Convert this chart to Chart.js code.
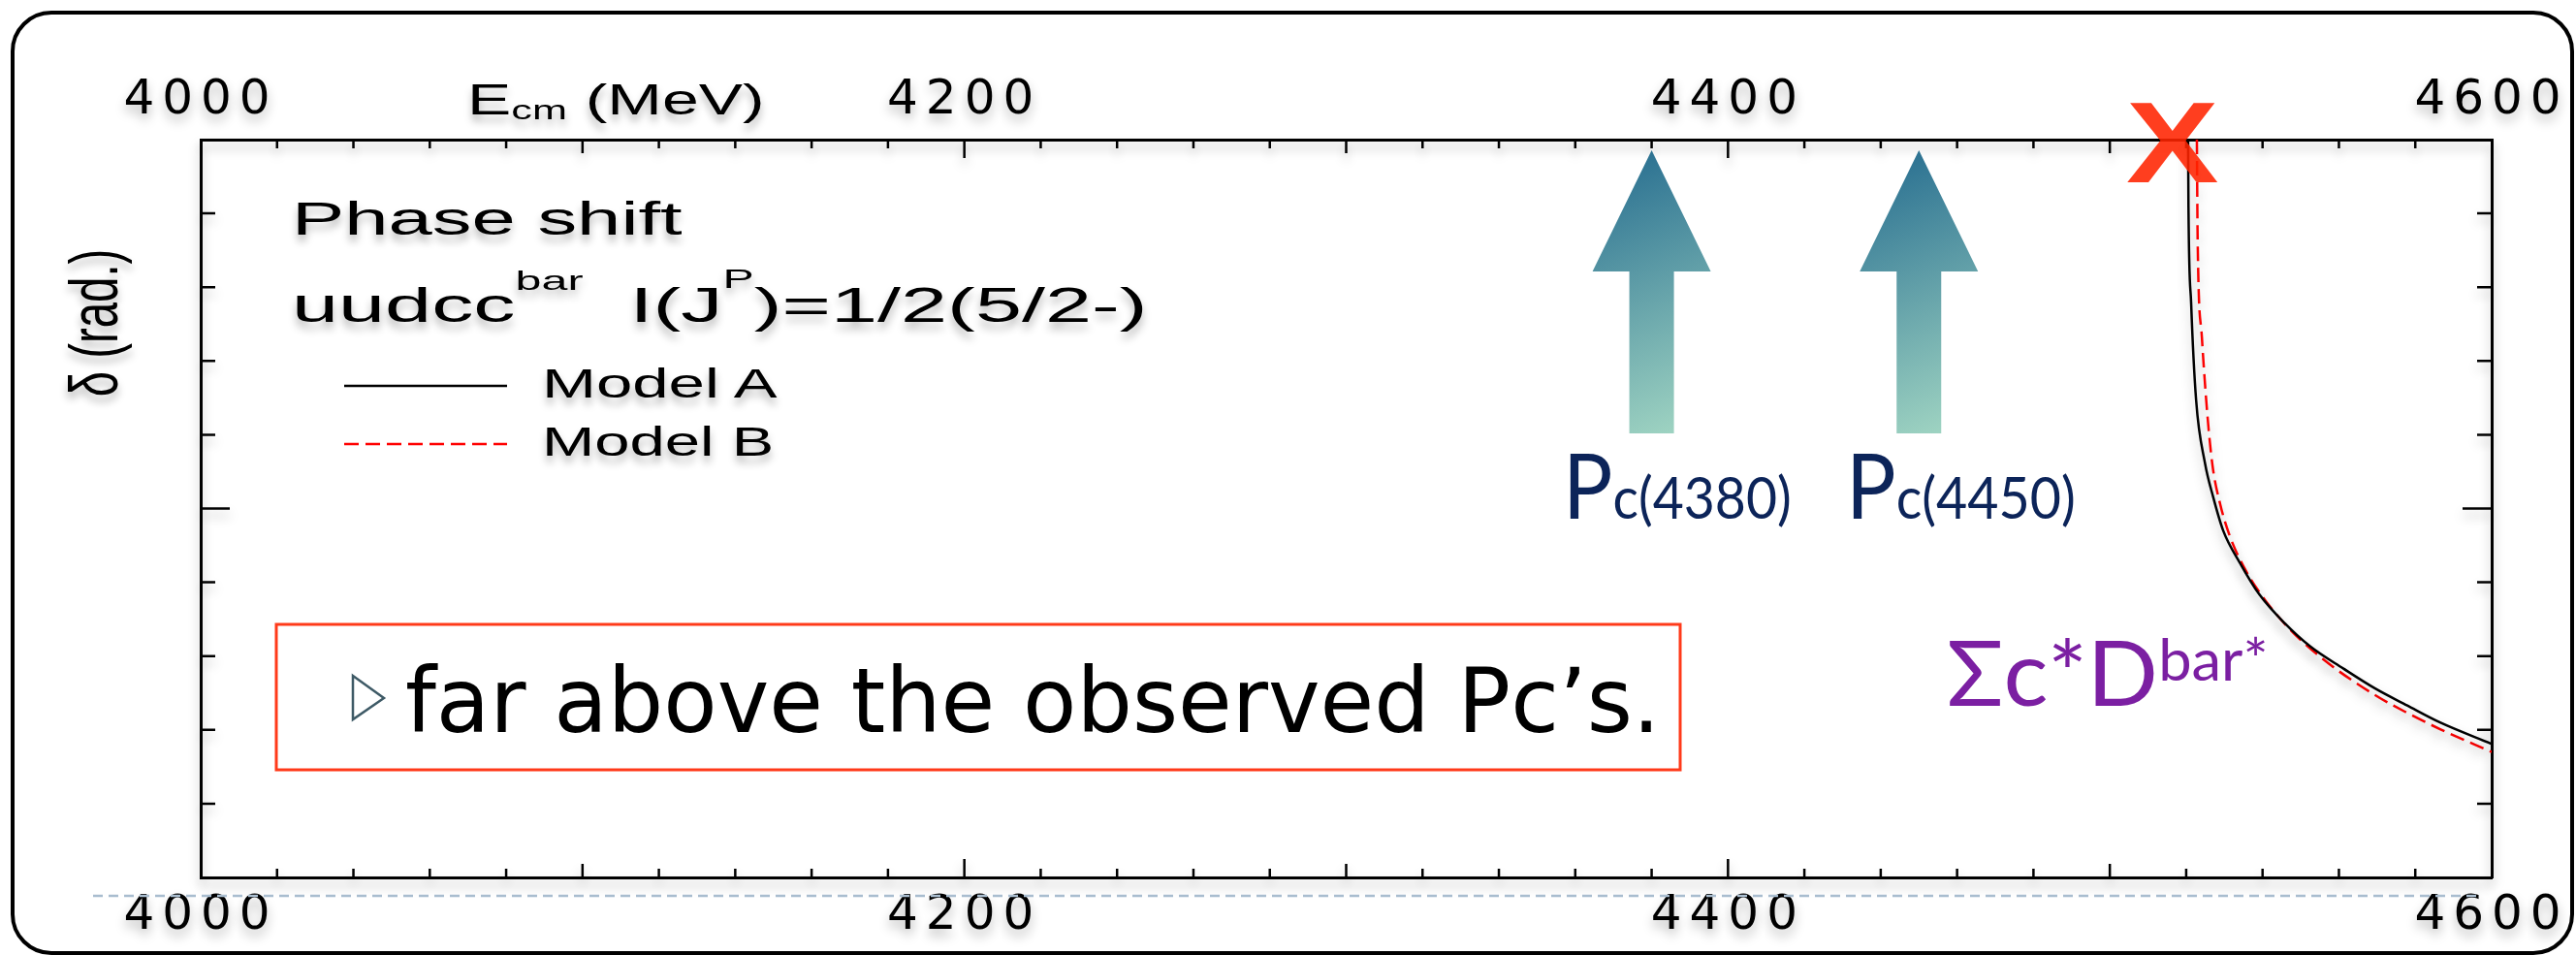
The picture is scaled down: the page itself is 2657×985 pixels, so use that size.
<!DOCTYPE html>
<html>
<head>
<meta charset="utf-8">
<title>Phase shift uudccbar 1/2(5/2-)</title>
<script src="https://cdn.jsdelivr.net/npm/chart.js@4.4.1/dist/chart.umd.min.js"></script>
<style>
  html, body { margin: 0; padding: 0; background: #fff; overflow: hidden; }
  #wrap { position: relative; width: 2657px; height: 985px; }
  #wrap canvas, #wrap svg { position: absolute; left: 0; top: 0; }
  .t { position: absolute; white-space: nowrap; line-height: 1; transform-origin: 0 0; }
  .fig { font-family: "Liberation Sans", Arial, sans-serif; color: #000; text-shadow: 0 7px 7px rgba(0,0,0,0.28); }
  .pc { font-family: Lato, "Open Sans", sans-serif; color: #0c2459; }
  .sig { font-family: Lato, "Open Sans", sans-serif; color: #7b1fa2; }
  .note { font-family: "DejaVu Sans", sans-serif; color: #000; }
  .cross { font-family: "Liberation Sans", Arial, sans-serif; font-weight: bold; color: #ff2400; opacity: 0.88; }
</style>
</head>
<body>
<div id="wrap">
  <canvas id="chart" width="2657" height="985"></canvas>
  <svg width="2657" height="985">
    <rect x="13" y="13" width="2640" height="970" rx="40" ry="40" fill="none" stroke="#000" stroke-width="4"/>
    <line x1="96" y1="924" x2="2555" y2="924" stroke="#a9bdcf" stroke-width="2.5" stroke-dasharray="10 6"/>
    <line x1="355" y1="398" x2="523" y2="398" stroke="#000" stroke-width="2.5"/>
    <line x1="355" y1="458" x2="523" y2="458" stroke="#ff0000" stroke-width="2.5" stroke-dasharray="15 7"/>
    <rect x="285" y="644" width="1448" height="150" fill="none" stroke="#ff3a1a" stroke-width="3"/>
    <polygon points="364,697 396,720 364,742" fill="none" stroke="#3e5a66" stroke-width="2.5"/>
  </svg>
</div>
<script>
// phase shift, Model A (solid) and Model B (dashed)
const energyA = [4520.5, 4520.6, 4521.3, 4522.6, 4524.9, 4527.1, 4529.7, 4534.0, 4539.1, 4545.9, 4552.5, 4561.2, 4569.5, 4577.9, 4586.5, 4600];
const deltaA  = [0, -0.092, -0.222, -0.353, -0.438, -0.485, -0.530, -0.573, -0.616, -0.656, -0.687, -0.717, -0.744, -0.767, -0.790, -0.819];
const energyB = [4522.8, 4523.0, 4524.1, 4525.6, 4526.9, 4528.9, 4531.4, 4535.8, 4540.8, 4547.4, 4556.8, 4569.5, 4577.9, 4586.5, 4600];
const deltaB  = [0, -0.135, -0.267, -0.376, -0.442, -0.494, -0.537, -0.586, -0.625, -0.665, -0.708, -0.753, -0.777, -0.799, -0.830];
const xTickLabels = [4000, 4200, 4400, 4600];
const pcMasses = [4380, 4450];

const toPoints = (xs, ys) => xs.map((e, i) => ({ x: e, y: ys[i] }));

// inward ticks, shadows and the Pc arrows
const decor = {
  id: 'decor',
  beforeDraw(chart) {
    const ctx = chart.ctx;
    ctx.save();
    ctx.shadowColor = 'rgba(0,0,0,0.28)';
    ctx.shadowBlur = 12;
    ctx.shadowOffsetY = 7;
    ctx.letterSpacing = '8px';
  },
  afterDraw(chart) {
    const ctx = chart.ctx, a = chart.chartArea;
    const sx = chart.scales.x, sy = chart.scales.y;
    ctx.strokeStyle = '#000';
    ctx.lineWidth = 2.5;
    ctx.beginPath();
    for (let v = 4020; v < 4600; v += 20) {
      const len = v % 200 === 0 ? 19 : (v % 100 === 0 ? 14 : 9);
      const px = sx.getPixelForValue(v);
      ctx.moveTo(px, a.top); ctx.lineTo(px, a.top + len);
      ctx.moveTo(px, a.bottom); ctx.lineTo(px, a.bottom - len);
    }
    for (let k = 1; k < 10; k++) {
      const len = k === 5 ? 30 : 15;
      const py = sy.getPixelForValue(-k / 10);
      ctx.moveTo(a.left, py); ctx.lineTo(a.left + len, py);
      ctx.moveTo(a.right, py); ctx.lineTo(a.right - len, py);
    }
    ctx.stroke();
    ctx.restore();

    // arrows pointing at the observed Pc states
    const tipY = 155, headY = 280, baseY = 447, headHalf = 61, shaftHalf = 23;
    pcMasses.forEach(m => {
      const cx = sx.getPixelForValue(m);
      const g = ctx.createLinearGradient(cx - 60, tipY, cx + 60, baseY);
      g.addColorStop(0, '#236a8e');
      g.addColorStop(1, '#a4d8c4');
      ctx.fillStyle = g;
      ctx.beginPath();
      ctx.moveTo(cx, tipY);
      ctx.lineTo(cx + headHalf, headY);
      ctx.lineTo(cx + shaftHalf, headY);
      ctx.lineTo(cx + shaftHalf, baseY);
      ctx.lineTo(cx - shaftHalf, baseY);
      ctx.lineTo(cx - shaftHalf, headY);
      ctx.lineTo(cx - headHalf, headY);
      ctx.closePath();
      ctx.fill();
    });
  }
};

const tickFont = { family: 'DejaVu Sans', size: 50 };
const xAxis = (pos, h) => ({
  type: 'linear',
  position: pos,
  min: 4000,
  max: 4600,
  grid: { display: false, drawTicks: false },
  border: { display: true, color: '#000', width: 3 },
  ticks: { color: '#000', font: tickFont, padding: 10, autoSkip: false, maxRotation: 0, callback: v => String(v) },
  afterBuildTicks: s => { s.ticks = xTickLabels.map(v => ({ value: v })); },
  afterFit: s => { s.height = h; }
});
const yAxis = (pos, w) => ({
  type: 'linear',
  position: pos,
  min: -1,
  max: 0,
  grid: { display: false, drawTicks: false },
  border: { display: true, color: '#000', width: 3 },
  ticks: { display: false },
  afterFit: s => { s.width = w; }
});

new Chart(document.getElementById('chart'), {
  type: 'line',
  data: {
    datasets: [
      {
        label: 'Model A',
        data: toPoints(energyA, deltaA),
        borderColor: '#000',
        borderWidth: 2.5,
        pointRadius: 0,
        cubicInterpolationMode: 'monotone',
        xAxisID: 'x',
        yAxisID: 'y'
      },
      {
        label: 'Model B',
        data: toPoints(energyB, deltaB),
        borderColor: '#ff0000',
        borderWidth: 2.5,
        borderDash: [15, 7],
        pointRadius: 0,
        cubicInterpolationMode: 'monotone',
        xAxisID: 'x',
        yAxisID: 'y'
      }
    ]
  },
  options: {
    responsive: false,
    devicePixelRatio: 1,
    animation: false,
    parsing: false,
    layout: { padding: 0 },
    plugins: { legend: { display: false }, tooltip: { enabled: false }, title: { display: false } },
    scales: {
      x: xAxis('top', 144),
      x2: xAxis('bottom', 80),
      y: yAxis('left', 207),
      y2: yAxis('right', 87)
    }
  },
  plugins: [decor]
});

// text on the slide, placed by left edge, baseline and width
const wrap = document.getElementById('wrap');
const texts = [
  { cls: 'fig', size: 44, x: 482, base: 118, w: 307, html: 'E<span style="font-size:28px;vertical-align:-5px">cm</span> (MeV)' },
  { cls: 'fig', size: 49, x: 301, base: 242, w: 402, html: 'Phase shift' },
  { cls: 'fig', size: 50, x: 301, base: 332, w: 883, html: 'uudcc<span style="font-size:28px;vertical-align:33px">bar</span>&nbsp;&nbsp;I(J<span style="font-size:28px;vertical-align:35px">P</span>)=1/2(5/2-)' },
  { cls: 'fig', size: 42, x: 559, base: 410, w: 243, html: 'Model A' },
  { cls: 'fig', size: 42, x: 559, base: 470, w: 239, html: 'Model B' },
  { cls: 'pc', size: 93, x: 1612, base: 535, w: 236, html: 'P<span style="font-size:60px">c(4380)</span>' },
  { cls: 'pc', size: 93, x: 1904, base: 535, w: 237, html: 'P<span style="font-size:60px">c(4450)</span>' },
  { cls: 'sig', size: 94, x: 2008, base: 728, w: 332, html: 'Σc*D<span style="font-size:60px;vertical-align:26px">bar*</span>' },
  { cls: 'note', size: 92, x: 418, base: 755, w: 1295, html: 'far above the observed Pc’s.' },
  { cls: 'cross', size: 119, x: 2193, base: 188, w: 95, html: 'X' }
];

texts.forEach(d => {
  const el = document.createElement('div');
  el.className = 't ' + d.cls;
  el.style.fontSize = d.size + 'px';
  el.innerHTML = d.html;
  wrap.appendChild(el);
  const mark = document.createElement('span');
  mark.style.cssText = 'display:inline-block;width:0;height:0;vertical-align:baseline';
  el.appendChild(mark);
  const base = mark.offsetTop;
  el.style.left = d.x + 'px';
  el.style.top = (d.base - base) + 'px';
  el.style.transform = 'scaleX(' + (d.w / el.offsetWidth) + ')';
});

// rotated y axis title
const yt = document.createElement('div');
yt.className = 't fig';
yt.style.fontSize = '48px';
yt.style.textShadow = '-7px 0 7px rgba(0,0,0,0.28)';
yt.textContent = 'δ (rad.)';
wrap.appendChild(yt);
const W = yt.offsetWidth, H = yt.offsetHeight;
yt.style.left = (97 - W / 2) + 'px';
yt.style.top = (333 - H / 2) + 'px';
yt.style.transformOrigin = '50% 50%';
yt.style.transform = 'rotate(-90deg) scale(' + (153 / W) + ', 1.45)';
</script>
</body>
</html>
